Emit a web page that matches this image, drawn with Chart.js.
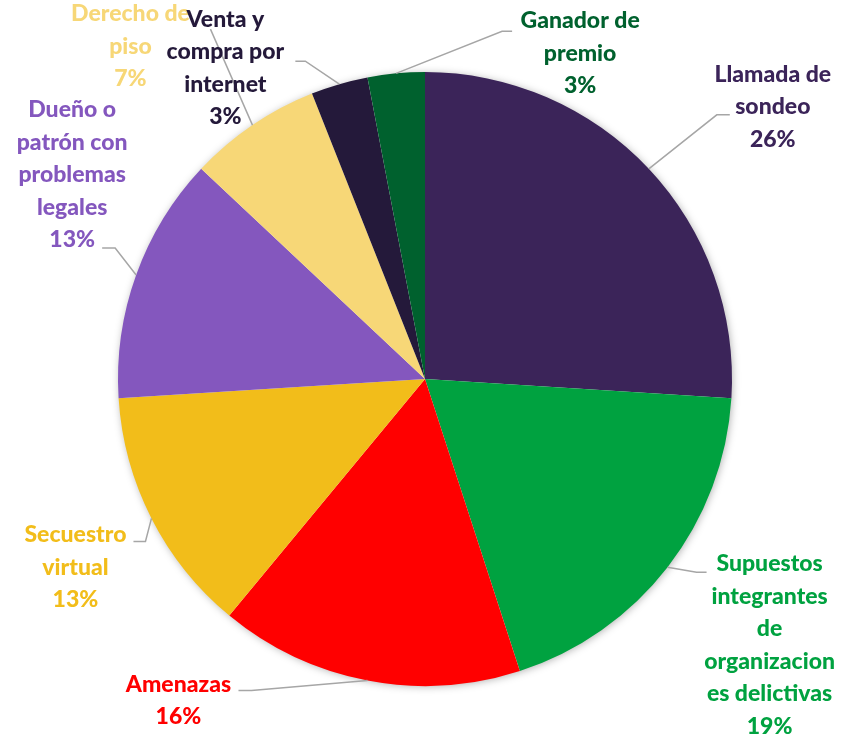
<!DOCTYPE html>
<html>
<head>
<meta charset="utf-8">
<script src="https://cdn.jsdelivr.net/npm/chart.js@4/dist/chart.umd.min.js"></script>
<style>
  html, body { margin: 0; padding: 0; background: #fff; }
  canvas { display: block; }
</style>
</head>
<body>
<canvas id="pie" width="844" height="736"></canvas>
<script>
// Pie slices, clockwise from 12 o'clock
const categories = [
  ['Llamada de', 'sondeo'],
  ['Supuestos', 'integrantes', 'de', 'organizacion', 'es delictivas'],
  ['Amenazas'],
  ['Secuestro', 'virtual'],
  ['Dueño o', 'patrón con', 'problemas', 'legales'],
  ['Derecho de', 'piso'],
  ['Venta y', 'compra por', 'internet'],
  ['Ganador de', 'premio']
];
const percents = [26, 19, 16, 13, 13, 7, 3, 3];
const sliceColors = ['#3b2459', '#00a240', '#ff0000', '#f2bd1a', '#8457be', '#f7d777', '#24193a', '#00612e'];
const labelColors = ['#3b2459', '#00a240', '#ff0000', '#f2bd1a', '#8457be', '#f7d777', '#24193a', '#00612e'];

// label placement relative to the slice's outer-edge midpoint:
// [text centre dx, dy, elbow dx, dy, line end dx]
const labelOffsets = [
  [124, -62, 68, -54, 81],
  [102, 78, 29, 5, 39],
  [-189, 20, -116, 10, -129],
  [-76, 49, -6, 23, -18],
  [-64, -100, -21, -27, -34],
  [-122, -79, -42, -96, -42],
  [-114, -16, -34, -23, -44],
  [184, -20, 106, -42, 116]
];

const labelFont = '900 23px Lato';
const lineHeight = 32.5;

const pieShadow = {
  id: 'pieShadow',
  beforeDatasetsDraw(chart) {
    const arc = chart.getDatasetMeta(0).data[0];
    if (!arc) return;
    const ctx = chart.ctx;
    ctx.save();
    ctx.shadowColor = 'rgba(0,0,0,0.35)';
    ctx.shadowBlur = 8;
    ctx.shadowOffsetX = 1;
    ctx.shadowOffsetY = 1;
    ctx.fillStyle = '#ffffff';
    ctx.beginPath();
    ctx.arc(arc.x, arc.y, arc.outerRadius - 1, 0, Math.PI * 2);
    ctx.fill();
    ctx.restore();
  }
};

const leaderLabels = {
  id: 'leaderLabels',
  afterDatasetsDraw(chart) {
    const ctx = chart.ctx;
    const arcs = chart.getDatasetMeta(0).data;
    const anchors = arcs.map(a => {
      const mid = (a.startAngle + a.endAngle) / 2;
      return [a.x + Math.cos(mid) * a.outerRadius, a.y + Math.sin(mid) * a.outerRadius];
    });

    // leader lines first
    ctx.save();
    ctx.strokeStyle = '#a6a6a6';
    ctx.lineWidth = 1.5;
    anchors.forEach((p, i) => {
      const o = labelOffsets[i];
      ctx.beginPath();
      ctx.moveTo(p[0], p[1]);
      ctx.lineTo(p[0] + o[2], p[1] + o[3]);
      ctx.lineTo(p[0] + o[4], p[1] + o[3]);
      ctx.stroke();
    });
    ctx.restore();

    // then texts
    ctx.save();
    ctx.font = labelFont;
    ctx.textAlign = 'center';
    ctx.textBaseline = 'middle';
    anchors.forEach((p, i) => {
      const o = labelOffsets[i];
      const lines = categories[i].concat([percents[i] + '%']);
      const cx = p[0] + o[0];
      const top = p[1] + o[1] - (lines.length - 1) * lineHeight / 2;
      ctx.fillStyle = labelColors[i];
      lines.forEach((t, k) => ctx.fillText(t, cx, top + k * lineHeight));
    });
    ctx.restore();
  }
};

new Chart(document.getElementById('pie'), {
  type: 'pie',
  data: {
    labels: categories.map(c => c.join(' ')),
    datasets: [{
      data: percents,
      backgroundColor: sliceColors,
      borderWidth: 0
    }]
  },
  options: {
    responsive: false,
    animation: false,
    layout: { padding: { top: 72, bottom: 50, left: 118, right: 112 } },
    plugins: {
      legend: { display: false },
      tooltip: { enabled: false }
    }
  },
  plugins: [pieShadow, leaderLabels]
});
</script>
</body>
</html>
